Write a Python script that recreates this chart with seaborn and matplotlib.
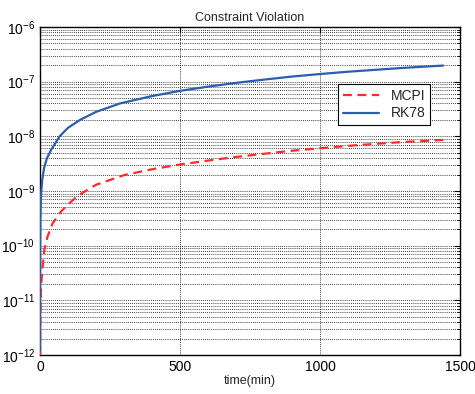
import matplotlib
matplotlib.use("Agg")
import matplotlib.pyplot as plt
import seaborn as sns
import pandas as pd
import numpy as np
from matplotlib.ticker import LogLocator, NullFormatter

sns.set_style("white")
plt.rcParams['font.family'] = ['Liberation Sans', 'DejaVu Sans']

time_rk = [0.005, 0.05, 0.5, 1.5, 4, 8, 15, 25, 40, 70, 100, 143, 200, 286, 400, 500,
           600, 700, 800, 900, 1000, 1100, 1200, 1300, 1440]
rk78 = [1.2e-12, 1.2e-11, 1.1e-10, 3.5e-10, 9e-10, 1.6e-9, 2.7e-9, 4.0e-9, 5.7e-9, 1.0e-8,
        1.43e-8, 2.0e-8, 2.8e-8, 4.0e-8, 5.45e-8, 6.8e-8, 8.1e-8, 9.5e-8, 1.09e-7,
        1.24e-7, 1.38e-7, 1.52e-7, 1.65e-7, 1.79e-7, 1.97e-7]

time_mc = [0.2, 1, 3, 5, 9.5, 15.5, 27, 45, 75, 105, 140, 200, 300, 400, 500,
           600, 700, 800, 900, 1000, 1100, 1200, 1300, 1440]
mcpi = [1e-12, 4.5e-12, 1.3e-11, 2.2e-11, 4.1e-11, 8.4e-11, 1.47e-10, 2.56e-10, 4.2e-10,
        6.0e-10, 8.5e-10, 1.3e-9, 1.95e-9, 2.5e-9, 3.05e-9, 3.6e-9, 4.2e-9, 4.8e-9,
        5.45e-9, 6.05e-9, 6.7e-9, 7.3e-9, 7.9e-9, 8.6e-9]

df_mc = pd.DataFrame({"t": time_mc, "v": mcpi})
df_rk = pd.DataFrame({"t": time_rk, "v": rk78})

fig = plt.figure(figsize=(4.75, 3.94), dpi=100)
ax = fig.add_axes([40/475, 39/394, 420/475, 328/394])

sns.lineplot(data=df_mc, x="t", y="v", ax=ax, color="#ff2a2a", linestyle=(0, (4, 2.5)),
             linewidth=1.6, label="MCPI", zorder=3)
sns.lineplot(data=df_rk, x="t", y="v", ax=ax, color="#2a5fae", linewidth=1.6,
             label="RK78", zorder=4)

ax.set_yscale("log")
ax.set_xlim(0, 1500)
ax.set_ylim(1e-12, 1e-6)
ax.set_xticks([0, 500, 1000, 1500])
ax.yaxis.set_major_locator(LogLocator(base=10, numticks=10))
ax.yaxis.set_minor_locator(LogLocator(base=10, subs=np.arange(2, 10), numticks=100))
ax.yaxis.set_minor_formatter(NullFormatter())
ax.xaxis.get_offset_text().set_visible(False)
ax.yaxis.get_offset_text().set_visible(False)

ax.grid(True, which="major", axis="both", color="black", linestyle=(0, (1, 1.5)), linewidth=0.6)
ax.grid(True, which="minor", axis="y", color="black", linestyle=(0, (1, 1.5)), linewidth=0.6)

for s in ax.spines.values():
    s.set_color("black")
    s.set_linewidth(1.0)
ax.tick_params(axis="both", which="both", direction="in", top=True, right=True,
               labelsize=10, colors="black")
ax.tick_params(which="major", length=4)
ax.tick_params(which="minor", length=2)

ax.set_title("Constraint Violation", fontsize=9, pad=4)
ax.set_xlabel("time(min)", fontsize=9, labelpad=1)
ax.yaxis.label.set_visible(False)

leg = ax.legend(loc="upper right", bbox_to_anchor=(0.929, 0.826), borderaxespad=0,
                fontsize=10, frameon=True, fancybox=False, edgecolor="black",
                framealpha=1, handlelength=2.6, borderpad=0.35, labelspacing=0.25)
leg.get_frame().set_linewidth(0.8)

fig.savefig("out.png", dpi=100)
